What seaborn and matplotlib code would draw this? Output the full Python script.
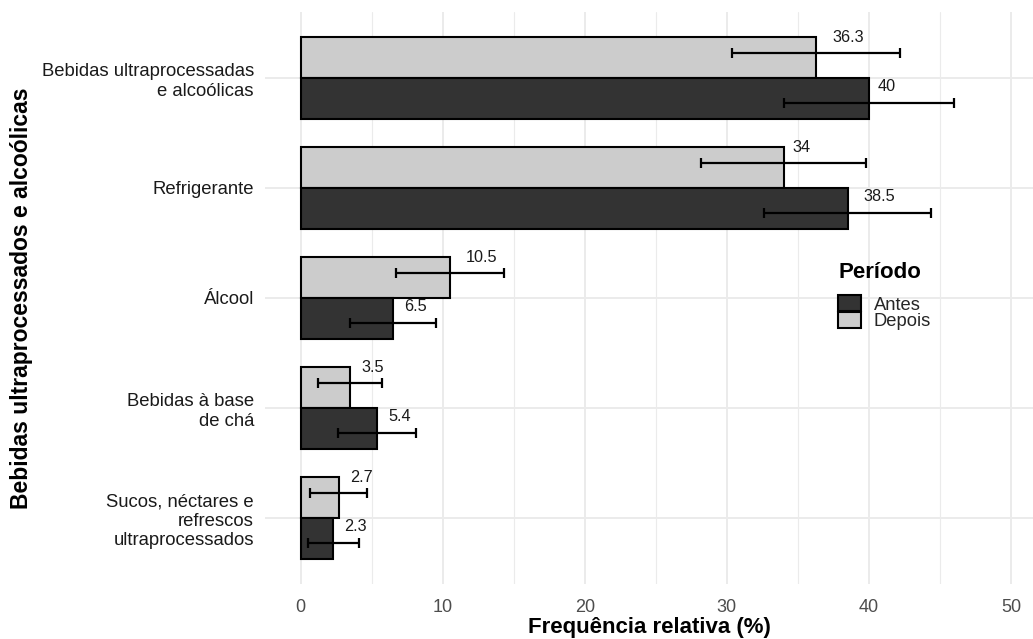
import matplotlib
matplotlib.use("Agg")
import numpy as np
import pandas as pd
import seaborn as sns
import matplotlib.pyplot as plt
from matplotlib.patches import Patch
from matplotlib.transforms import ScaledTranslation

# --- data -------------------------------------------------------------
categorias = [
    "Bebidas ultraprocessadas\ne alcoólicas",
    "Refrigerante",
    "Álcool",
    "Bebidas à base\nde chá",
    "Sucos, néctares e\nrefrescos\nultraprocessados",
]
antes = [40.0, 38.5, 6.5, 5.4, 2.3]
depois = [36.3, 34.0, 10.5, 3.5, 2.7]
erro_antes = [6.0, 5.9, 3.0, 2.75, 1.8]
erro_depois = [5.9, 5.8, 3.8, 2.25, 2.0]
periodos = ["Antes", "Depois"]
cores = {"Antes": "#333333", "Depois": "#CCCCCC"}
x_ticks = [0, 10, 20, 30, 40, 50]

df = pd.DataFrame({
    "Categoria": categorias * 2,
    "Período": ["Depois"] * len(categorias) + ["Antes"] * len(categorias),
    "Frequência": depois + antes,
})

# --- style ------------------------------------------------------------
sns.set_theme(style="white")
plt.rcParams["font.family"] = ["Liberation Sans", "DejaVu Sans"]

W, H = 1033, 639
fig = plt.figure(figsize=(W / 100, H / 100), dpi=100)
ax = fig.add_axes([265 / W, 1 - 584 / H, 1 - 265 / W, (584 - 12) / H])

sns.barplot(
    data=df, y="Categoria", x="Frequência", hue="Período",
    hue_order=["Depois", "Antes"], order=categorias, palette=cores,
    width=0.75, edgecolor="black", linewidth=1.5, orient="h",
    errorbar=None, legend=False, ax=ax,
)

# error bars, dodged a little wider than the bars
pos = np.arange(len(categorias))
dodge = 0.225
for vals, errs, off in [(depois, erro_depois, -dodge), (antes, erro_antes, dodge)]:
    ax.errorbar(vals, pos + off, xerr=errs, fmt="none", ecolor="black",
                elinewidth=1.6, capsize=3.6, capthick=1.6, zorder=4)

ax.set_xlim(-2.5, 51.55)
ax.set_ylim(len(categorias) - 0.4, -0.6)

# grid (minimal theme)
ax.set_axisbelow(True)
ax.set_xticks(x_ticks)
ax.set_xticks([t + 5 for t in x_ticks[:-1]], minor=True)
ax.grid(which="major", axis="both", color="#EBEBEB", linewidth=1.4)
ax.grid(which="minor", axis="x", color="#EBEBEB", linewidth=0.8)
for s in ax.spines.values():
    s.set_visible(False)
ax.tick_params(axis="both", which="both", length=0)
ax.tick_params(axis="x", pad=11, labelsize=13, labelcolor="#4D4D4D")
ax.tick_params(axis="y", pad=8, labelsize=13.3, labelcolor="#1A1A1A")
for lab in ax.get_yticklabels():
    lab.set_linespacing(1.2)
    lab.set_horizontalalignment("right")

ax.set_xlabel("Frequência relativa (%)", fontsize=16, fontweight="bold", color="black")
ax.set_ylabel("Bebidas ultraprocessados e alcoólicas", fontsize=16.5, fontweight="bold", color="black")
ax.xaxis.label.set_va("center")
ax.xaxis.set_label_coords(0.5, (584 - 628) / 572)
ax.yaxis.label.set_va("center")
ax.yaxis.set_label_coords((22 - 265) / 768, 0.5)

# value labels: nudged right by one text width, above the error bar
renderer = fig.canvas.get_renderer()
for vals, off in [(depois, -dodge), (antes, dodge)]:
    for i, v in enumerate(vals):
        txt = f"{v:g}"
        t = ax.text(v, i + off, txt, ha="center", va="center",
                    fontsize=11.7, color="#1A1A1A", zorder=5)
        w = t.get_window_extent(renderer).width
        t.set_transform(ax.transData + ScaledTranslation(w / 100, 16 / 100, fig.dpi_scale_trans))

# legend
handles = [Patch(facecolor=cores[p], edgecolor="black", linewidth=1.5, label=p) for p in periodos]
leg = ax.legend(
    handles=handles, title="Período", loc="upper left",
    bbox_to_anchor=(838 / W, 1 - 262 / H), bbox_transform=fig.transFigure,
    frameon=False, fontsize=13.2, title_fontproperties={"weight": "bold", "size": 16},
    handlelength=1.25, handleheight=0.95, labelspacing=-0.08, handletextpad=0.7,
    borderpad=0, borderaxespad=0, alignment="left",
)
leg.get_title().set_color("black")
leg._legend_box.sep = 9

fig.savefig("out.png", dpi=100)
